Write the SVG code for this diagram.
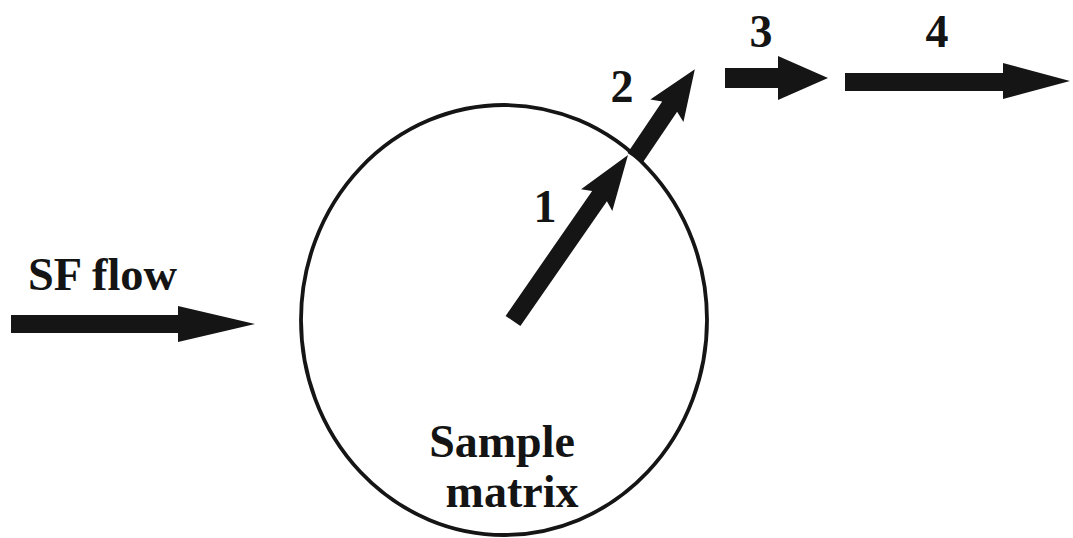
<svg xmlns="http://www.w3.org/2000/svg" width="1073" height="538" viewBox="0 0 1073 538">
<style>
.lbl{font-family:"Liberation Serif","Times New Roman",serif;font-weight:bold;fill:#141414;}
.arr{fill:#151515;stroke:none;}
</style>
<rect width="1073" height="538" fill="#ffffff"/>
<g id="sample-matrix">
<ellipse cx="504" cy="320" rx="203" ry="215" fill="none" stroke="#151515" stroke-width="3.8"/>
<text class="lbl" x="502" y="457" font-size="46" text-anchor="middle">Sample</text>
<text class="lbl" x="512" y="507" font-size="46" text-anchor="middle">matrix</text>
</g>
<g id="sf-flow">
<text class="lbl" x="28" y="290" font-size="46" textLength="149" lengthAdjust="spacingAndGlyphs">SF flow</text>
</g>
<g id="label-1"><text class="lbl" x="545" y="222" font-size="46" text-anchor="middle">1</text></g>
<g id="label-2"><text class="lbl" x="622" y="102" font-size="46" text-anchor="middle">2</text></g>
<g id="label-3"><text class="lbl" x="761" y="47" font-size="46" text-anchor="middle">3</text></g>
<g id="label-4"><text class="lbl" x="937" y="47" font-size="46" text-anchor="middle">4</text></g>
<g id="connectors">
<polygon class="arr" points="11,315 178,315 178,306 255,324 178,342 178,333 11,333"/>
<polygon class="arr" transform="translate(513,321) rotate(-55.3)" points="0,-9 152,-9 147,-19 202,0 147,19 152,9 0,9"/>
<polygon class="arr" transform="translate(635,158) rotate(-56)" points="0,-9 62,-9 57,-20 107,0 57,20 62,9 0,9"/>
<polygon class="arr" points="725,68 778,68 778,56 828,78 778,100 778,88 725,88"/>
<polygon class="arr" points="845,73 1003,73 1003,63 1070,81 1003,99 1003,91 845,91"/>
</g>
</svg>
